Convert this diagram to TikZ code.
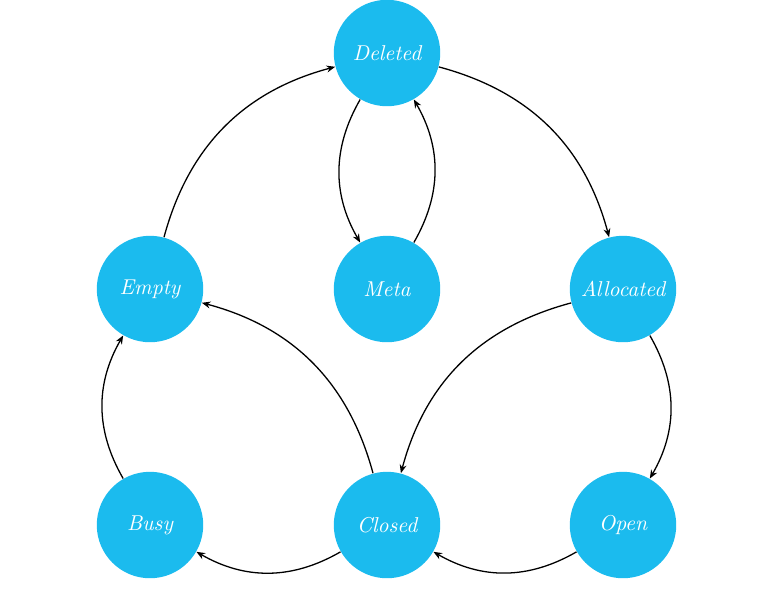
\documentclass[tikz,border=0pt]{standalone}
\usetikzlibrary{arrows.meta}
\definecolor{stateblue}{RGB}{27,187,238}
\begin{document}
\begin{tikzpicture}[x=0.465pt,y=-0.465pt,
  state/.style={circle,fill=stateblue,minimum size=49.5pt,inner sep=0pt,text=white,font=\itshape},
  edge/.style={-{Stealth[length=4pt,width=3.2pt]},line width=0.6pt,black}]
\useasboundingbox (0,0) rectangle (774,588);
\node[state] (Deleted) at (387,53) {Deleted};
\node[state] (Empty) at (150,289) {Empty};
\node[state] (Meta) at (387,289) {Meta};
\node[state] (Allocated) at (623,289) {Allocated};
\node[state] (Busy) at (150,525) {Busy};
\node[state] (Closed) at (387,525) {Closed};
\node[state] (Open) at (623,525) {Open};
\draw[edge] (Empty) to[bend left=30] (Deleted);
\draw[edge] (Deleted) to[bend left=30] (Allocated);
\draw[edge] (Deleted) to[bend right=30] (Meta);
\draw[edge] (Meta) to[bend right=30] (Deleted);
\draw[edge] (Allocated) to[bend left=30] (Open);
\draw[edge] (Allocated) to[bend right=30] (Closed);
\draw[edge] (Closed) to[bend right=30] (Empty);
\draw[edge] (Closed) to[bend left=30] (Busy);
\draw[edge] (Open) to[bend left=30] (Closed);
\draw[edge] (Busy) to[bend left=30] (Empty);
\end{tikzpicture}
\end{document}
